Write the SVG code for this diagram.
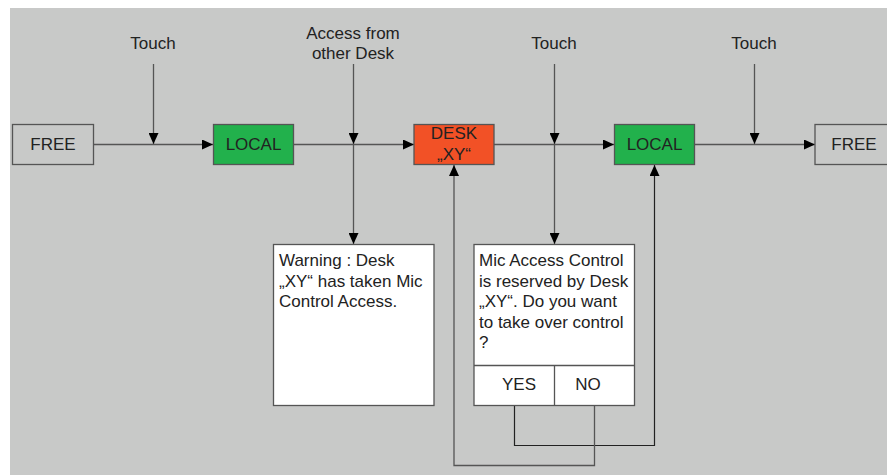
<svg xmlns="http://www.w3.org/2000/svg" width="887" height="475" viewBox="0 0 887 475">
<style>
.t{font-family:"Liberation Sans",Arial,sans-serif;font-size:17px;fill:#222}
.c{text-anchor:middle}
.ln{fill:none;stroke:#555;stroke-width:1.3}
.lk{fill:none;stroke:#222;stroke-width:1.2}
.box{stroke:#555;stroke-width:1.3}
</style>
<defs>
<marker id="a" viewBox="0 0 11 10" refX="11" refY="5" markerWidth="11" markerHeight="10" markerUnits="userSpaceOnUse" orient="auto">
<path d="M0,0 L11,5 L0,10 Z" fill="#000"/>
</marker>
</defs>
<rect x="0" y="0" width="887" height="475" fill="#fff"/>
<rect x="10" y="8" width="877" height="467" fill="#c8c9c8"/>
<g id="connectors">
<line class="ln" x1="93" y1="144.5" x2="213" y2="144.5" marker-end="url(#a)"/>
<line class="ln" x1="293" y1="144.5" x2="414" y2="144.5" marker-end="url(#a)"/>
<line class="ln" x1="494" y1="144.5" x2="614" y2="144.5" marker-end="url(#a)"/>
<line class="ln" x1="695" y1="144.5" x2="815" y2="144.5" marker-end="url(#a)"/>
<line class="ln" x1="153.5" y1="64" x2="153.5" y2="144" marker-end="url(#a)"/>
<line class="ln" x1="353.5" y1="64" x2="353.5" y2="144" marker-end="url(#a)"/>
<line class="ln" x1="353.5" y1="144" x2="353.5" y2="244" marker-end="url(#a)"/>
<line class="ln" x1="554.5" y1="64" x2="554.5" y2="144" marker-end="url(#a)"/>
<line class="ln" x1="554.5" y1="144" x2="554.5" y2="244" marker-end="url(#a)"/>
<line class="ln" x1="754.5" y1="64" x2="754.5" y2="144" marker-end="url(#a)"/>
<polyline class="lk" points="514.5,405 514.5,445.5 654.5,445.5 654.5,165" marker-end="url(#a)"/>
<polyline class="ln" points="594.5,405 594.5,465.5 454,465.5 454,165" marker-end="url(#a)"/>
</g>
<g id="label-touch1"><text class="t c" x="153" y="49">Touch</text></g>
<g id="label-access"><text class="t c" x="353" y="39">Access from</text><text class="t c" x="353" y="59">other Desk</text></g>
<g id="label-touch2"><text class="t c" x="554" y="49">Touch</text></g>
<g id="label-touch3"><text class="t c" x="754" y="49">Touch</text></g>
<g id="free1"><rect class="box" x="12.5" y="124.5" width="81" height="40" fill="#c8c9c8"/><text class="t c" x="53" y="150">FREE</text></g>
<g id="local1"><rect class="box" x="213.5" y="124.5" width="80" height="40" fill="#22b14c"/><text class="t c" x="253.5" y="150">LOCAL</text></g>
<g id="desk"><rect class="box" x="414" y="124.5" width="80" height="40" fill="#f25126"/><text class="t c" x="454" y="139">DESK</text><text class="t c" x="454" y="160">„XY“</text></g>
<g id="local2"><rect class="box" x="614.5" y="124.5" width="80" height="40" fill="#22b14c"/><text class="t c" x="654.5" y="150">LOCAL</text></g>
<g id="free2"><rect class="box" x="815" y="124.5" width="80" height="40" fill="#c8c9c8"/><text class="t c" x="854" y="150">FREE</text></g>
<g id="warning"><rect class="box" x="273.5" y="244.5" width="160.5" height="161" fill="#fff"/>
<text class="t" x="279" y="266">Warning : Desk</text>
<text class="t" x="279" y="286.5">„XY“ has taken Mic</text>
<text class="t" x="279" y="307">Control Access.</text></g>
<g id="mic"><rect class="box" x="474" y="244.5" width="160.5" height="161" fill="#fff"/>
<line class="box" x1="474" y1="365.5" x2="634.5" y2="365.5"/>
<line class="box" x1="554.5" y1="365.5" x2="554.5" y2="405.5"/>
<text class="t" x="479" y="266">Mic Access Control</text>
<text class="t" x="479" y="286.5">is reserved by Desk</text>
<text class="t" x="479" y="307">„XY“. Do you want</text>
<text class="t" x="479" y="327.5">to take over control</text>
<text class="t" x="479" y="348">?</text>
<text class="t c" x="519" y="390">YES</text>
<text class="t c" x="588" y="390">NO</text></g>
</svg>
